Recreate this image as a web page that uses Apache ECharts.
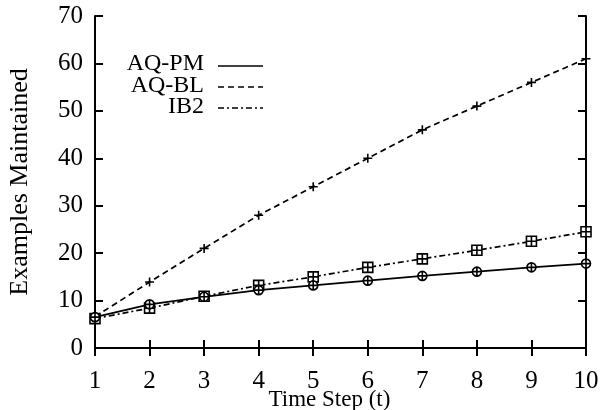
<!DOCTYPE html>
<html>
<head>
<meta charset="utf-8">
<script src="https://cdn.jsdelivr.net/npm/echarts@6/dist/echarts.min.js"></script>
<style>html,body{margin:0;padding:0;background:#fff}#c{width:600px;height:410px}</style>
</head>
<body>
<div id="c"></div>
<script>
var timeSteps = [1, 2, 3, 4, 5, 6, 7, 8, 9, 10];
var aqPM = [6.5, 9.2, 10.8, 12.2, 13.2, 14.2, 15.2, 16.1, 17.0, 17.8];
var aqBL = [6.6, 13.9, 21.0, 28.0, 34.0, 40.0, 46.0, 51.0, 56.0, 61.0];
var ib2  = [6.2, 8.4, 10.9, 13.2, 15.0, 17.0, 18.8, 20.6, 22.5, 24.5];
var seriesNames = ['AQ-PM', 'AQ-BL', 'IB2'];
var yTicks = {min: 0, max: 70, interval: 10};
var xTicks = {min: 1, max: 10, interval: 1};

function pairs(vals) { return timeSteps.map(function (t, i) { return [t, vals[i]]; }); }

var FONT = 'Liberation Serif';
var circlePlus = 'path://M0,5 A5,5 0 1,1 10,5 A5,5 0 1,1 0,5 Z M5,0 L5,10 M0,5 L10,5';
var squarePlus = 'path://M0,0 L10,0 L10,10 L0,10 Z M5,0 L5,10 M0,5 L10,5';
var plus = 'path://M5,0 L5,10 M0,5 L10,5';

var chart = echarts.init(document.getElementById('c'), null, {renderer: 'canvas'});
var axisCommon = {
  axisLine: {lineStyle: {color: '#000', width: 2}},
  axisTick: {inside: true, length: 8, lineStyle: {color: '#000', width: 2}},
  splitLine: {show: false},
  nameMoveOverlap: false
};
chart.setOption({
  animation: false,
  backgroundColor: '#fff',
  grid: {left: 95, right: 14, top: 16, bottom: 62, containLabel: false, outerBoundsMode: 'none'},
  xAxis: [
    Object.assign({
      type: 'value', min: xTicks.min, max: xTicks.max, interval: xTicks.interval,
      name: 'Time Step (t)', nameLocation: 'middle', nameGap: 40,
      nameTextStyle: {fontFamily: FONT, fontSize: 23, color: '#000', padding: [0, 22, 0, 0]},
      axisLabel: {fontFamily: FONT, fontSize: 25, color: '#000', margin: 21}
    }, axisCommon),
    Object.assign({
      type: 'value', position: 'top', min: xTicks.min, max: xTicks.max, interval: xTicks.interval,
      axisLabel: {show: false}
    }, axisCommon)
  ],
  yAxis: [
    Object.assign({
      type: 'value', min: yTicks.min, max: yTicks.max, interval: yTicks.interval,
      name: 'Examples Maintained', nameLocation: 'middle', nameGap: 62,
      nameTextStyle: {fontFamily: FONT, fontSize: 26, color: '#000'},
      axisLabel: {fontFamily: FONT, fontSize: 25, color: '#000', margin: 12}
    }, axisCommon),
    Object.assign({
      type: 'value', position: 'right', min: yTicks.min, max: yTicks.max, interval: yTicks.interval,
      axisLabel: {show: false}
    }, axisCommon)
  ],
  series: [
    {
      name: seriesNames[0], type: 'line', data: pairs(aqPM),
      symbol: circlePlus, symbolSize: 9,
      itemStyle: {color: '#fff', borderColor: '#000', borderWidth: 1.6},
      lineStyle: {color: '#000', width: 1.8, type: 'solid'}, z: 3
    },
    {
      name: seriesNames[1], type: 'line', data: pairs(aqBL),
      symbol: plus, symbolSize: 9,
      itemStyle: {color: '#fff', borderColor: '#000', borderWidth: 1.6},
      lineStyle: {color: '#000', width: 1.7, type: [6, 4]}, z: 2
    },
    {
      name: seriesNames[2], type: 'line', data: pairs(ib2),
      symbol: squarePlus, symbolSize: 10,
      itemStyle: {color: '#fff', borderColor: '#000', borderWidth: 1.6},
      lineStyle: {color: '#000', width: 1.7, type: [6, 3, 2, 3]}, z: 2
    }
  ],
  graphic: [
    {type: 'text', right: 600 - 204, top: 52, style: {text: seriesNames[0], font: '24px ' + FONT, fill: '#000', textAlign: 'right'}},
    {type: 'text', right: 600 - 204, top: 74, style: {text: seriesNames[1], font: '24px ' + FONT, fill: '#000', textAlign: 'right'}},
    {type: 'text', right: 600 - 204, top: 95, style: {text: seriesNames[2], font: '24px ' + FONT, fill: '#000', textAlign: 'right'}},
    {type: 'line', shape: {x1: 218, y1: 66, x2: 263, y2: 66}, style: {stroke: '#000', lineWidth: 1.6}},
    {type: 'line', shape: {x1: 218, y1: 87, x2: 263, y2: 87}, style: {stroke: '#000', lineWidth: 1.5, lineDash: [6, 4]}},
    {type: 'line', shape: {x1: 218, y1: 108, x2: 263, y2: 108}, style: {stroke: '#000', lineWidth: 1.5, lineDash: [6, 3, 2, 3]}}
  ]
});
</script>
</body>
</html>
